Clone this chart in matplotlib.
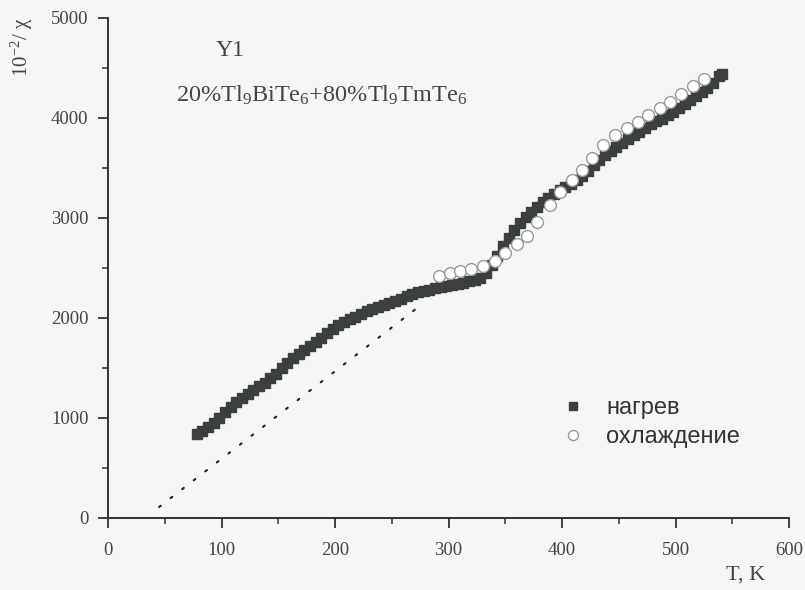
import matplotlib
matplotlib.use("Agg")
import matplotlib.pyplot as plt
from matplotlib.ticker import MultipleLocator

plt.rcParams['font.family'] = ['Liberation Serif', 'DejaVu Serif']
plt.rcParams['mathtext.fontset'] = 'custom'
plt.rcParams['mathtext.rm'] = 'Liberation Serif'
plt.rcParams['mathtext.default'] = 'regular'

# heating (нагрев)
heat_T = [78, 83, 88, 93, 98, 103, 108, 113, 118, 123, 128, 133, 138, 143, 148, 153, 158, 163,
          168, 173, 178, 183, 188, 193, 198, 203, 208, 213, 218, 223, 228, 233, 238, 243, 248,
          253, 258, 263, 268, 273, 278, 283, 288, 293, 298, 303, 308, 313, 318, 323, 328, 333,
          338, 343, 348, 353, 358, 363, 368, 373, 378, 383, 388, 393, 398, 403, 408, 413, 418,
          423, 428, 433, 438, 443, 448, 453, 458, 463, 468, 473, 478, 483, 488, 493, 498, 503,
          508, 513, 518, 523, 528, 533, 538, 541]
heat_y = [840, 870, 910, 950, 1000, 1060, 1110, 1160, 1200, 1240, 1280, 1320, 1350, 1400, 1440,
          1500, 1550, 1600, 1640, 1680, 1720, 1760, 1800, 1850, 1890, 1930, 1960, 1990, 2010,
          2040, 2070, 2090, 2110, 2130, 2150, 2170, 2190, 2220, 2240, 2260, 2270, 2280, 2300,
          2310, 2320, 2330, 2340, 2350, 2370, 2380, 2400, 2450, 2530, 2620, 2720, 2800, 2880,
          2950, 3010, 3060, 3110, 3160, 3200, 3240, 3280, 3310, 3340, 3380, 3420, 3470, 3530,
          3580, 3630, 3670, 3710, 3750, 3790, 3830, 3860, 3900, 3940, 3970, 3990, 4030, 4060,
          4100, 4140, 4180, 4220, 4260, 4300, 4350, 4420, 4440]

# cooling (охлаждение)
cool_T = [292, 301, 310, 320, 330, 341, 350, 360, 369, 378, 389, 398, 409, 418, 426, 436, 447,
          457, 467, 476, 486, 495, 505, 515, 525]
cool_y = [2420, 2450, 2470, 2490, 2520, 2570, 2650, 2740, 2820, 2960, 3130, 3260, 3380, 3480,
          3600, 3730, 3830, 3900, 3960, 4030, 4100, 4160, 4240, 4320, 4390]

# dotted Curie-Weiss extrapolation
fit_T = [45, 278]
fit_y = [110, 2150]

x_ticks = [0, 100, 200, 300, 400, 500, 600]
y_ticks = [0, 1000, 2000, 3000, 4000, 5000]

bg = '#f6f6f6'
fig = plt.figure(figsize=(8.05, 5.9), dpi=100, facecolor=bg)
ax = fig.add_axes([108/805, 1-518/590, (789-108)/805, (518-18)/590])
ax.set_facecolor(bg)

ax.plot(fit_T, fit_y, color='#222222', lw=1.5, ls=(0, (1, 6)), dash_capstyle='round')
ax.plot(heat_T, heat_y, ls='none', marker='s', ms=7.5, mfc='#3b3f3f', mec='#3b3f3f',
        label='нагрев', zorder=3)
ax.plot(cool_T, cool_y, ls='none', marker='o', ms=8.5, mfc='white', mec='#9a9a9a', mew=1.0,
        label='охлаждение', zorder=4)

ax.set_xlim(0, 600)
ax.set_ylim(0, 5000)
ax.set_xticks(x_ticks)
ax.set_yticks(y_ticks)
ax.xaxis.set_minor_locator(MultipleLocator(50))
ax.yaxis.set_minor_locator(MultipleLocator(500))
for s in ['top', 'right']:
    ax.spines[s].set_visible(False)
for s in ['left', 'bottom']:
    ax.spines[s].set_color('#333333')
    ax.spines[s].set_linewidth(1.4)
ax.tick_params(which='major', direction='out', length=7, width=1.3, color='#333333',
               labelsize=13.5, labelcolor='#444444')
ax.tick_params(which='minor', direction='out', length=4, width=1.1, color='#333333')
ax.tick_params(axis='x', which='major', pad=10)
ax.tick_params(axis='y', which='major', pad=7)

fig.text(22/805, 1-18/590, r'10$^{-2}$/ χ', rotation=90, ha='center', va='top',
         fontsize=15, color='#444444')
fig.text(746/805, 1-575/590, 'T, K', ha='center', va='center', fontsize=16, color='#444444')
fig.text(230/805, 1-50/590, 'Y1', ha='center', va='center', fontsize=17, color='#444444')
fig.text(176/805, 1-95/590, '20%Tl$_{9}$BiTe$_{6}$+80%Tl$_{9}$TmTe$_{6}$', ha='left',
         va='center', fontsize=17.5, color='#444444')

leg = ax.legend(loc='upper left', bbox_to_anchor=(540/805, 1-376/590),
                bbox_transform=fig.transFigure, frameon=False,
                prop={'family': 'Liberation Sans', 'size': 17}, handlelength=1.0,
                handletextpad=0.9, labelspacing=0.3, markerscale=0.85)
for t in leg.get_texts():
    t.set_color('#333333')

fig.savefig('out.png', dpi=100, facecolor=bg)
